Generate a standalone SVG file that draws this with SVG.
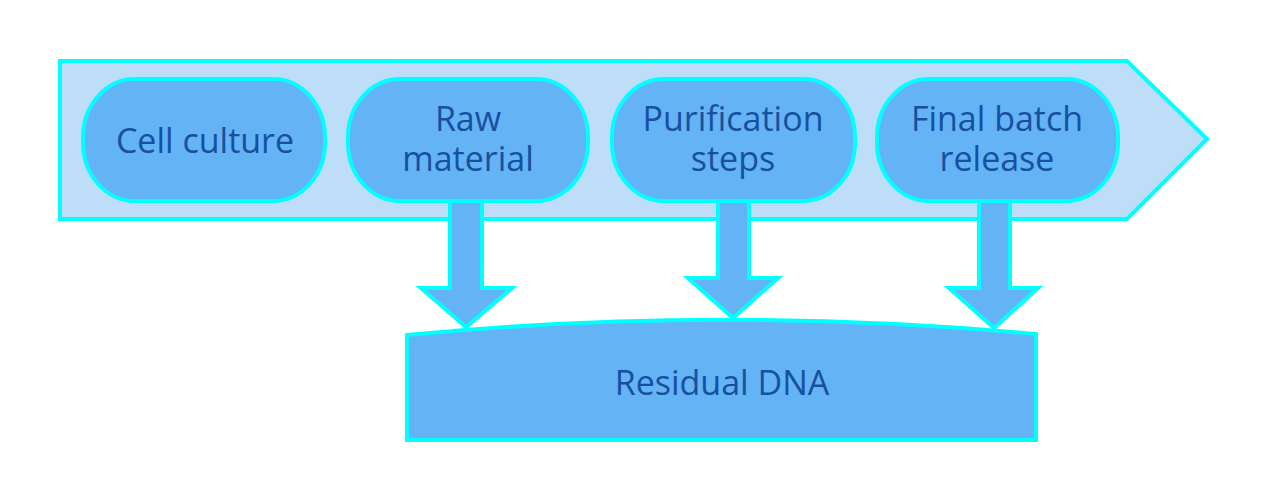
<svg xmlns="http://www.w3.org/2000/svg" width="1267" height="502" viewBox="0 0 1267 502">
<style>
.chev{fill:#BDDDF8;stroke:#00FFFF;stroke-width:4;stroke-linejoin:miter}
.box{fill:#63B3F5;stroke:#00FFFF;stroke-width:4}
.arr{fill:#63B3F5;stroke:#00FFFF;stroke-width:4;stroke-linejoin:miter}
.t{font-family:"Open Sans","Noto Sans",sans-serif;font-size:34px;fill:#17509E;text-anchor:middle}
</style>
<rect width="1267" height="502" fill="#FFFFFF"/>
<g id="process">
<polygon class="chev" points="60,61 1127,61 1207,139 1127,219 60,219"/>
</g>
<g id="connectors">
<polygon class="arr" points="450,195 482,195 482,288 512,288 466,327 421,288 450,288"/>
<polygon class="arr" points="718,195 749,195 749,278 778,278 733,318 688,278 718,278"/>
<polygon class="arr" points="979,195 1010,195 1010,288 1038,288 994,328 949,288 979,288"/>
</g>
<g id="cell-culture">
<rect class="box" x="83" y="79" width="242" height="122" rx="52" ry="58"/>
<text class="t" x="205" y="153">Cell culture</text>
</g>
<g id="raw-material">
<rect class="box" x="348" y="79" width="240" height="122" rx="52" ry="58"/>
<text class="t" x="468" y="131"><tspan x="468">Raw</tspan><tspan x="468" dy="40">material</tspan></text>
</g>
<g id="purification">
<rect class="box" x="612" y="79" width="243" height="122" rx="52" ry="58"/>
<text class="t" x="733" y="131"><tspan x="733">Purification</tspan><tspan x="733" dy="40">steps</tspan></text>
</g>
<g id="final-batch">
<rect class="box" x="877" y="79" width="241" height="122" rx="52" ry="58"/>
<text class="t" x="997" y="131"><tspan x="997">Final batch</tspan><tspan x="997" dy="40">release</tspan></text>
</g>
<g id="residual-dna">
<path class="box" d="M407,335 Q721,305 1036,334 L1036,440 L407,440 Z"/>
<text class="t" x="722" y="395">Residual DNA</text>
</g>
</svg>
